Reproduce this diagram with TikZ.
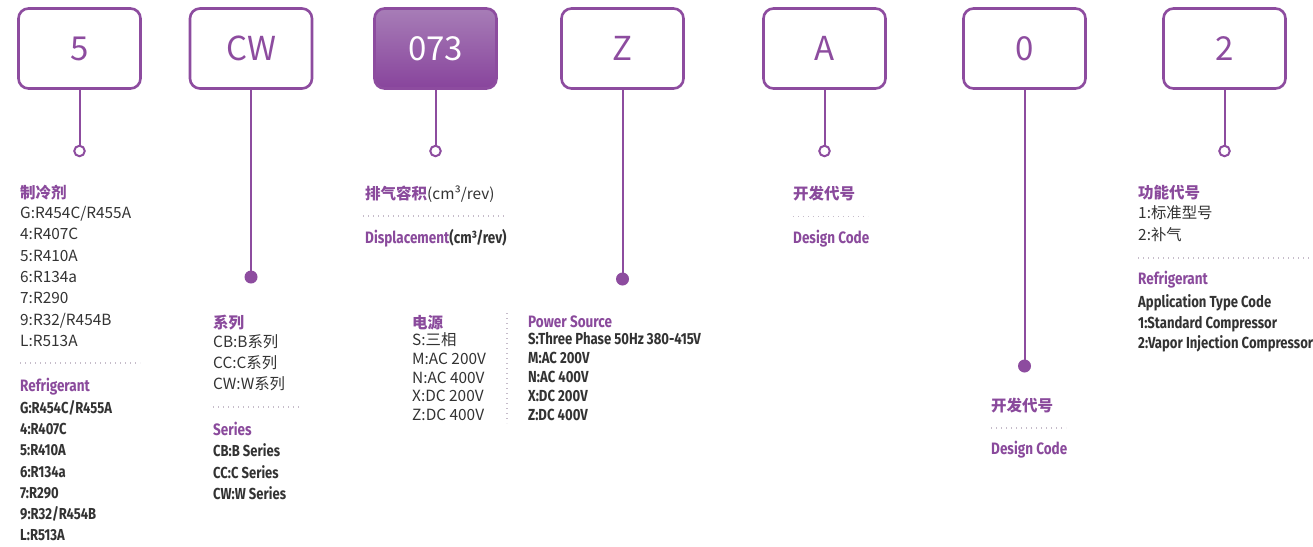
\documentclass[tikz,border=0pt]{standalone}
\usepackage{fontspec}
\setmainfont{Noto Sans CJK SC}
\newfontfamily\cond{Fira Sans}[FakeStretch=0.82]
\definecolor{pur}{HTML}{8D4C9F}
\definecolor{hpur}{HTML}{8A4A9C}
\definecolor{gtop}{HTML}{A77DB7}
\definecolor{gbot}{HTML}{88449C}
\definecolor{txt}{HTML}{333333}
\definecolor{dotc}{HTML}{C6BCCA}
\tikzset{
  codebox/.style={draw=pur, line width=2.6pt, rounded corners=10pt, minimum width=122pt, minimum height=80pt, inner sep=0pt, text=pur, font=\fontsize{33}{36}\selectfont},
  filledbox/.style={codebox, top color=gtop, bottom color=gbot, text=white},
  ring/.style={circle, draw=pur, fill=white, line width=2pt, minimum size=10.5pt, inner sep=0pt},
  blob/.style={circle, fill=pur, minimum size=13pt, inner sep=0pt},
  stem/.style={draw=pur, line width=2pt},
  sepline/.style={draw=dotc, line width=1.3pt, dash pattern=on 1.3pt off 3.7pt},
  hcn/.style={anchor=base west, inner sep=0pt, text=hpur, font=\fontsize{15.5}{18}\selectfont\bfseries},
  hen/.style={anchor=base west, inner sep=0pt, text=hpur, font=\fontsize{16.5}{18}\cond\bfseries},
  reg/.style={anchor=base west, inner sep=0pt, text=txt, font=\fontsize{15.4}{18}\selectfont},
  cnd/.style={anchor=base west, inner sep=0pt, text=txt, font=\fontsize{15.9}{18}\cond\bfseries},
  cnds/.style={cnd, font=\fontsize{16}{18}\cond\bfseries},
}
\begin{document}
\begin{tikzpicture}[x=1pt,y=-1pt]
\fill[white] (0,0) rectangle (1313,546);
\useasboundingbox (0,0) rectangle (1313,546);

% code boxes
\node[codebox]   (b1) at (79.5,48.5)   {5};
\node[codebox]   (b2) at (251,48.5)    {CW};
\node[filledbox] (b3) at (435.5,48.5)  {073};
\node[codebox]   (b4) at (622.5,48.5)  {Z};
\node[codebox]   (b5) at (824.5,48.5)  {A};
\node[codebox]   (b6) at (1024.5,48.5) {0};
\node[codebox]   (b7) at (1224.5,48.5) {2};

% end markers
\node[ring] (c1) at (79.5,151)   {};
\node[blob] (c2) at (251,277)    {};
\node[ring] (c3) at (435.5,151)  {};
\node[blob] (c4) at (622.5,279)  {};
\node[ring] (c5) at (824.5,151)  {};
\node[blob] (c6) at (1024.5,366) {};
\node[ring] (c7) at (1224.5,151) {};

\draw[stem] (b1.south) -- (c1.north);
\draw[stem] (b2.south) -- (c2.center);
\draw[stem] (b3.south) -- (c3.north);
\draw[stem] (b4.south) -- (c4.center);
\draw[stem] (b5.south) -- (c5.north);
\draw[stem] (b6.south) -- (c6.center);
\draw[stem] (b7.south) -- (c7.north);

% column 1
\node[hcn] (h1) at (20,198) {制冷剂};
\foreach \t [count=\i] in {G:R454C/R455A,4:R407C,5:R410A,6:R134a,7:R290,9:R32/R454B,L:R513A}
  \node[reg] (ra\i) at (20,{218.5+21.3*(\i-1)}) {\t};
\draw[sepline] (20,363) -- (140,363);
\node[hen] (e1) at (20,391) {Refrigerant};
\foreach \t [count=\i] in {G:R454C/R455A,4:R407C,5:R410A,6:R134a,7:R290,9:R32/R454B,L:R513A}
  \node[cnd] (rb\i) at (20,{413.5+21.2*(\i-1)}) {\t};

% column 2
\node[hcn] (h2) at (213,328) {系列};
\foreach \t [count=\i] in {CB:B系列,CC:C系列,CW:W系列}
  \node[reg] (sa\i) at (213,{347.5+21*(\i-1)}) {\t};
\draw[sepline] (213,407) -- (302,407);
\node[hen] (e2) at (213,435.5) {Series};
\foreach \t [count=\i] in {CB:B Series,CC:C Series,CW:W Series}
  \node[cnd] (sb\i) at (213,{456.5+21.5*(\i-1)}) {\t};

% column 3
\node[hcn] (h3) at (365,199) {排气容积{\mdseries\color{txt}\fontsize{15.4}{18}\selectfont(cm³/rev)}};
\draw[sepline] (363,216) -- (504,216);
\node[hen] (e3) at (365,243.5) {Displacement{\color{txt}(cm³/rev)}};

% column 4
\node[hcn] (h4) at (412,328) {电源};
\foreach \t [count=\i] in {S:三相,M:AC 200V,N:AC 400V,X:DC 200V,Z:DC 400V}
  \node[reg] (pa\i) at (412,{345.5+18.75*(\i-1)}) {\t};
\draw[sepline] (507,313) -- (507,423);
\node[hen] (e4) at (528,327.5) {Power Source};
\foreach \t [count=\i] in {S:Three Phase 50Hz 380-415V,M:AC 200V,N:AC 400V,X:DC 200V,Z:DC 400V}
  \node[cnds] (pb\i) at (528,{344.5+19*(\i-1)}) {\t};

% column 5
\node[hcn] (h5) at (793,199) {开发代号};
\draw[sepline] (793,216.5) -- (868,216.5);
\node[hen] (e5) at (793,243.5) {Design Code};

% column 6
\node[hcn] (h6) at (991,411) {开发代号};
\draw[sepline] (991,428) -- (1066,428);
\node[hen] (e6) at (991,454.5) {Design Code};

% column 7
\node[hcn] (h7) at (1138,198) {功能代号};
\node[reg] (fa1) at (1138,218.5) {1:标准型号};
\node[reg] (fa2) at (1138,240.5) {2:补气};
\draw[sepline] (1138,258) -- (1313,258);
\node[hen] (e7) at (1138,284.5) {Refrigerant};
\foreach \t [count=\i] in {Application Type Code,1:Standard Compressor,2:Vapor Injection Compressor}
  \node[cnds] (fb\i) at (1138,{307.5+20.5*(\i-1)}) {\t};
\end{tikzpicture}
\end{document}
